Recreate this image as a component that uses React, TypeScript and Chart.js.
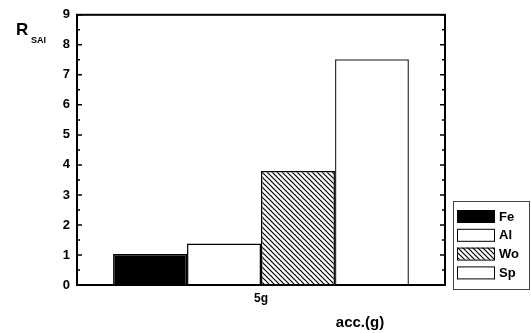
import React, { useEffect, useRef } from "react";
import { Chart, registerables } from "chart.js";

Chart.register(...registerables);

const categories = ["5g"];
const seriesNames = ["Fe", "Al", "Wo", "Sp"];
const feValues = [1.03];
const alValues = [1.38];
const woValues = [3.8];
const spValues = [7.52];
const yTicks = [0, 1, 2, 3, 4, 5, 6, 7, 8, 9];

const FONT = '"Liberation Sans", Arial, sans-serif';

function makeHatch(): CanvasPattern | string {
  const c = document.createElement("canvas");
  const s = 5;
  c.width = s;
  c.height = s;
  const g = c.getContext("2d");
  if (!g) return "#888";
  g.fillStyle = "#fff";
  g.fillRect(0, 0, s, s);
  g.strokeStyle = "#000";
  g.lineWidth = 1.2;
  g.beginPath();
  g.moveTo(-1, -1);
  g.lineTo(s + 1, s + 1);
  g.moveTo(-1, s - 1);
  g.lineTo(1, s + 1);
  g.moveTo(s - 1, -1);
  g.lineTo(s + 1, 1);
  g.stroke();
  const p = g.createPattern(c, "repeat");
  return p || "#888";
}

export default function App() {
  const ref = useRef<HTMLCanvasElement | null>(null);

  useEffect(() => {
    const canvas = ref.current;
    if (!canvas) return;
    const hatch = makeHatch();

    const decor = {
      id: "decor",
      afterDraw(chart: any) {
        const ctx = chart.ctx;
        const a = chart.chartArea;
        const y = chart.scales.y;
        ctx.save();
        // frame
        ctx.strokeStyle = "#000";
        ctx.lineWidth = 2;
        ctx.strokeRect(a.left, a.top, a.right - a.left, a.bottom - a.top);
        // inward ticks on left and right axes
        ctx.lineWidth = 1.5;
        for (let v = 0; v <= 9; v += 0.5) {
          const py = y.getPixelForValue(v);
          const len = Number.isInteger(v) ? 5 : 3;
          ctx.beginPath();
          ctx.moveTo(a.left, py);
          ctx.lineTo(a.left + len, py);
          ctx.moveTo(a.right, py);
          ctx.lineTo(a.right - len, py);
          ctx.stroke();
        }
        // y title R_SAI
        ctx.fillStyle = "#000";
        ctx.textBaseline = "alphabetic";
        ctx.textAlign = "left";
        ctx.font = `bold 17px ${FONT}`;
        ctx.fillText("R", 16, 35);
        ctx.font = `bold 9px ${FONT}`;
        ctx.fillText("SAI", 31, 43);
        // x title
        ctx.font = `bold 15px ${FONT}`;
        ctx.textAlign = "center";
        ctx.fillText("acc.(g)", 360, 327);
        // legend
        const lx = 453, ly = 201, lw = 76, lh = 88;
        ctx.strokeStyle = "#444";
        ctx.lineWidth = 1;
        ctx.strokeRect(lx + 0.5, ly + 0.5, lw, lh);
        ctx.textAlign = "left";
        ctx.textBaseline = "middle";
        ctx.font = `bold 13px ${FONT}`;
        chart.data.datasets.forEach((ds: any, i: number) => {
          const sy = 210 + i * 18.8;
          ctx.fillStyle = ds.backgroundColor;
          ctx.fillRect(457, sy, 38, 12);
          ctx.strokeStyle = "#000";
          ctx.lineWidth = 1;
          ctx.strokeRect(457.5, sy + 0.5, 37, 12);
          ctx.fillStyle = "#000";
          ctx.fillText(ds.label, 499, sy + 7);
        });
        ctx.restore();
      },
    };

    const chart = new Chart(canvas, {
      type: "bar",
      data: {
        labels: categories,
        datasets: [
          { label: seriesNames[0], data: feValues, backgroundColor: "#000", borderColor: "#000", borderWidth: 1.5 },
          { label: seriesNames[1], data: alValues, backgroundColor: "#fff", borderColor: "#000", borderWidth: 1.5 },
          { label: seriesNames[2], data: woValues, backgroundColor: hatch as any, borderColor: "#000", borderWidth: 1.5 },
          { label: seriesNames[3], data: spValues, backgroundColor: "#fff", borderColor: "#333", borderWidth: 1.5 },
        ],
      },
      options: {
        responsive: false,
        animation: false,
        layout: { padding: { top: 13, right: 86, left: 0, bottom: 0 } },
        datasets: { bar: { barPercentage: 1, categoryPercentage: 0.804 } } as any,
        plugins: { legend: { display: false }, tooltip: { enabled: false } },
        scales: {
          x: {
            grid: { display: false, drawTicks: false },
            border: { display: false },
            ticks: { color: "#000", font: { family: FONT, size: 12, weight: "bold" }, padding: 6 },
            afterFit: (s: any) => {
              s.height = 48;
            },
          },
          y: {
            min: 0,
            max: 9,
            afterBuildTicks: (s: any) => {
              s.ticks = yTicks.map((v) => ({ value: v }));
            },
            grid: { display: false, drawTicks: false },
            border: { display: false },
            ticks: { color: "#000", font: { family: FONT, size: 13, weight: "bold" }, padding: 7 },
            afterFit: (s: any) => {
              s.width = 77;
            },
          },
        },
      },
      plugins: [decor],
    });
    return () => chart.destroy();
  }, []);

  return (
    <div style={{ position: "absolute", left: 0, top: 0, width: 531, height: 333, background: "#fff" }}>
      <canvas ref={ref} width={531} height={333} />
    </div>
  );
}
